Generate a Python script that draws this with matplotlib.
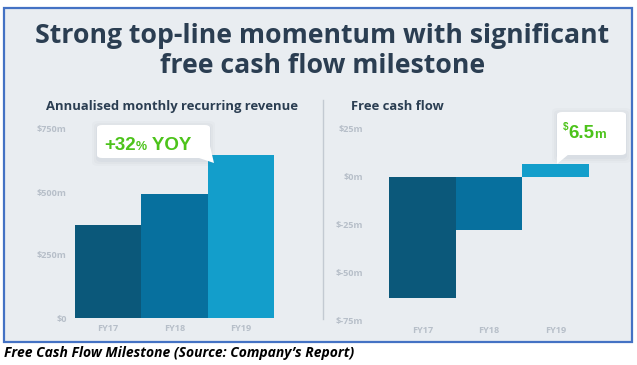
import matplotlib.pyplot as plt
from matplotlib.patches import Rectangle, FancyBboxPatch, Polygon
from matplotlib.lines import Line2D

years = ["FY17", "FY18", "FY19"]
amrr = [369, 492, 647]          # $m
fcf = [-63.5, -28, 6.5]         # $m
bar_colors = ["#0b587a", "#07709e", "#139ecb"]
amrr_ticks = [0, 250, 500, 750]
amrr_labels = ["$0", "$250m", "$500m", "$750m"]
fcf_ticks = [-75, -50, -25, 0, 25]
fcf_labels = ["$-75m", "$-50m", "$-25m", "$0m", "$25m"]

W, H = 637, 365
navy = "#2b3e52"
green = "#4cc31a"
tick_grey = "#b7bfc9"
bg = "#e9edf1"
font = "Open Sans"


def fx(x):
    return x / W


def fy(y):
    return 1 - y / H


fig = plt.figure(figsize=(W / 100, H / 100), dpi=100)
fig.patch.set_facecolor("white")

# panel background + blue frame
fig.patches.append(Rectangle((fx(4), fy(342)), fx(628), 334 / H, transform=fig.transFigure,
                             facecolor=bg, edgecolor="#4472c4", lw=1.6, zorder=-5))

# titles
fig.text(fx(322), fy(43), "Strong top-line momentum with significant", ha="center", va="baseline",
         fontsize=19.2, fontweight="bold", color=navy, family=font)
fig.text(fx(323), fy(73), "free cash flow milestone", ha="center", va="baseline",
         fontsize=19.2, fontweight="bold", color=navy, family=font)
fig.text(fx(46), fy(110), "Annualised monthly recurring revenue", ha="left", va="baseline",
         fontsize=9.4, fontweight="bold", color=navy, family=font)
fig.text(fx(351), fy(110), "Free cash flow", ha="left", va="baseline",
         fontsize=9.4, fontweight="bold", color=navy, family=font)

# divider
fig.lines.append(Line2D([fx(323), fx(323)], [fy(100), fy(319)], transform=fig.transFigure,
                        color="#c3cad2", lw=1, zorder=-4))


def style_axis(ax, ticks, labels, pad):
    ax.set_facecolor("none")
    for s in ax.spines.values():
        s.set_visible(False)
    ax.set_yticks(ticks)
    ax.set_yticklabels(labels)
    ax.set_xticks(range(len(years)))
    ax.set_xticklabels(years)
    ax.tick_params(length=0, labelsize=6.6, labelcolor=tick_grey)
    ax.tick_params(axis="y", pad=pad)
    ax.tick_params(axis="x", pad=4)
    for t in ax.get_xticklabels() + ax.get_yticklabels():
        t.set_fontweight("bold")
        t.set_family(font)


# left chart
ax1 = fig.add_axes([fx(75), fy(318), 199 / W, (318 - 129) / H])
ax1.bar(range(3), amrr, width=1.0, color=bar_colors)
ax1.set_xlim(-0.5, 2.5)
ax1.set_ylim(0, 750)
style_axis(ax1, amrr_ticks, amrr_labels, 6)

# right chart
ax2 = fig.add_axes([fx(389), fy(320), 200 / W, (320 - 129) / H])
ax2.bar(range(3), fcf, width=1.0, color=bar_colors)
ax2.set_xlim(-0.5, 2.5)
ax2.set_ylim(-75, 25)
style_axis(ax2, fcf_ticks, fcf_labels, 19)


def callout(x0, y0, x1, y1, tail):
    # soft shadow
    for i, a in enumerate([0.05, 0.04, 0.03]):
        d = 2 + i * 2
        fig.patches.append(FancyBboxPatch((fx(x0 - d + 1), fy(y1 + d + 2)), (x1 - x0 + 2 * d - 2) / W,
                                          (y1 - y0 + 2 * d) / H, boxstyle="round,pad=0,rounding_size=0.01",
                                          transform=fig.transFigure, facecolor="#6a7a8a", alpha=a,
                                          edgecolor="none", zorder=5))
    fig.patches.append(FancyBboxPatch((fx(x0), fy(y1)), (x1 - x0) / W, (y1 - y0) / H,
                                      boxstyle="round,pad=0,rounding_size=0.008",
                                      transform=fig.transFigure, facecolor="white",
                                      edgecolor="none", zorder=6))
    fig.patches.append(Polygon([(fx(x), fy(y)) for x, y in tail], closed=True,
                               transform=fig.transFigure, facecolor="white", edgecolor="none", zorder=6))


callout(97, 125, 210, 158, [(196, 157), (210, 146), (214, 163)])
callout(557, 112, 626, 155, [(557, 150), (557, 164), (569, 154)])

renderer = fig.canvas.get_renderer()


def rich(x, y, parts):
    for txt, size, dy in parts:
        t = fig.text(fx(x), fy(y + dy), txt, ha="left", va="baseline", fontsize=size,
                     fontweight="bold", color=green, family="Liberation Sans", zorder=7)
        bb = t.get_window_extent(renderer)
        x = bb.x1


rich(104, 150, [("+32", 13.5, 0), ("%", 9, 0), (" YOY", 13.5, 0)])
rich(563, 138, [("$", 7, -8), ("6.5", 13.5, 0), ("m", 9.5, 0)])

# caption
fig.text(fx(4), fy(357), "Free Cash Flow Milestone (Source: Company\u2019s Report)", ha="left", va="baseline",
         fontsize=10, fontweight="bold", style="italic", color="black", family=font)

fig.savefig("out.png", dpi=100, facecolor="white")
